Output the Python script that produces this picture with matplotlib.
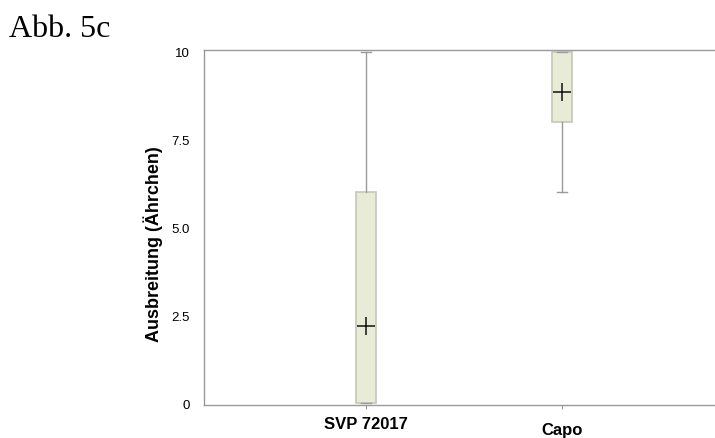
import matplotlib.pyplot as plt

groups = ['SVP 72017', 'Capo']
q1 = [0.0, 8.0]
q3 = [6.0, 10.0]
wlo = [0.0, 6.0]
whi = [10.0, 10.0]
means = [2.2, 8.85]
meds = [0.0, 10.0]
yticks = [0, 2.5, 5.0, 7.5, 10]
ytlabels = ['0', '2.5', '5.0', '7.5', '10']

plt.rcParams['font.family'] = ['Liberation Sans', 'DejaVu Sans']

fig = plt.figure(figsize=(7.15, 4.39), dpi=100)
ax = fig.add_axes([0.285, 0.075, 0.715, 0.809])

stats = []
for i in range(len(groups)):
    stats.append({'label': groups[i], 'q1': q1[i], 'q3': q3[i], 'whislo': wlo[i],
                  'whishi': whi[i], 'mean': means[i], 'med': meds[i], 'fliers': []})

ax.bxp(stats, positions=[1, 2], widths=0.1, patch_artist=True, showmeans=True,
       boxprops=dict(facecolor='#e8ebd5', edgecolor='#c5c8b5', linewidth=1.2),
       whiskerprops=dict(color='#9a9a9a', linewidth=1.0),
       capprops=dict(color='#9a9a9a', linewidth=1.0),
       capwidths=0.05,
       medianprops=dict(linewidth=0),
       meanprops=dict(marker='+', markersize=13, markeredgecolor='#111111', markeredgewidth=1.1))

ax.set_xlim(0.173, 2.78)
ax.set_ylim(-0.057, 10.057)
ax.set_yticks(yticks)
ax.set_yticklabels(ytlabels, fontsize=9.5)
ax.tick_params(axis='y', length=0, pad=10)
ax.tick_params(axis='x', length=3, color='#999999', pad=5)
ax.set_xticks([1, 2])
ax.set_xticklabels(groups, fontsize=12, fontweight='bold')
# Capo label sits a bit lower in the original
ax.get_xticklabels()[1].set_y(-0.015)

for side in ['left', 'top', 'bottom']:
    ax.spines[side].set_color('#999999')
    ax.spines[side].set_linewidth(1.0)
ax.spines['right'].set_visible(False)

ax.set_ylabel('Ausbreitung (Ährchen)', fontsize=13, fontweight='bold')
ax.yaxis.set_label_coords(-0.079, 0.456)

fig.text(0.012, 0.915, 'Abb. 5c', fontsize=23, family='Liberation Serif')

fig.savefig('out.png', dpi=100)
